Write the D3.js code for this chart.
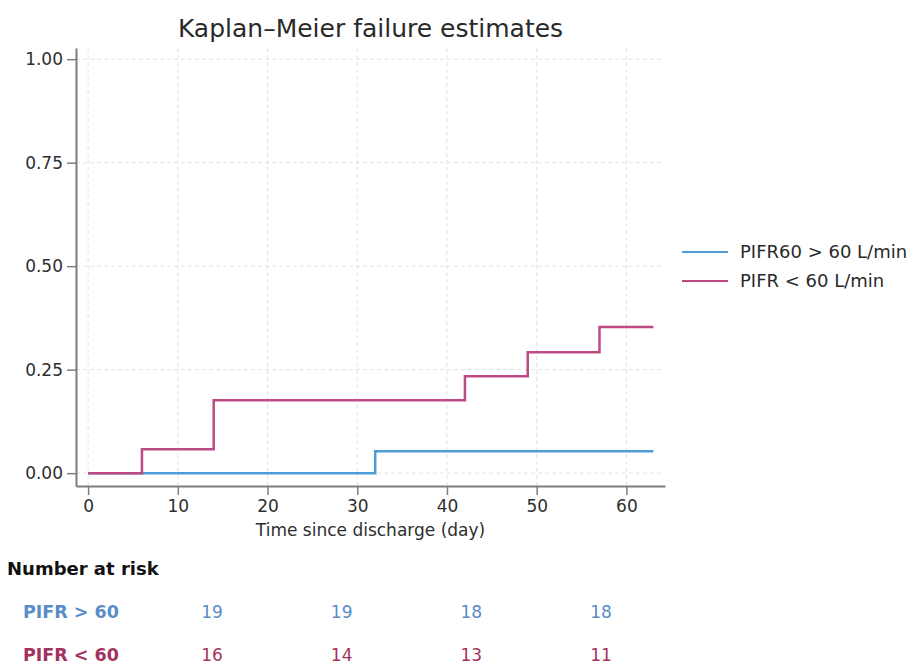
<!DOCTYPE html>
<html>
<head>
<meta charset="utf-8">
<script src="https://cdn.jsdelivr.net/npm/d3@7"></script>
<style>
  body { margin: 0; background: #fff; }
  svg text { font-family: "DejaVu Sans", sans-serif; }
</style>
</head>
<body>
<div id="chart"></div>
<script>
// data
const highTimes = [0, 32, 63];
const highFail = [0, 0.053, 0.053];
const lowTimes = [0, 6, 14, 42, 49, 57, 63];
const lowFail = [0, 0.058, 0.176, 0.234, 0.292, 0.353, 0.353];
const seriesNames = ["PIFR60 > 60 L/min", "PIFR < 60 L/min"];
const riskLabels = ["PIFR > 60", "PIFR < 60"];
const riskHigh = [19, 19, 18, 18];
const riskLow = [16, 14, 13, 11];
const xTicks = [0, 10, 20, 30, 40, 50, 60];
const yTicks = [0, 0.25, 0.5, 0.75, 1];

const width = 911;
const height = 666;
const blue = "#4f9bd6";
const red = "#bd4a82";
const blueText = "#5b8cc6";
const redText = "#a3325e";

const svg = d3.select("#chart").append("svg")
  .attr("width", width).attr("height", height);

const x = d3.scaleLinear().domain([-1.35, 64.3]).range([76, 665]);
const y = d3.scaleLinear().domain([-0.031, 1.027]).range([486, 48]);

// grid
svg.append("g").selectAll("line").data(yTicks).join("line")
  .attr("x1", x.range()[0]).attr("x2", x.range()[1])
  .attr("y1", d => y(d)).attr("y2", d => y(d))
  .attr("stroke", "#e2e2e2").attr("stroke-dasharray", "4,3");
svg.append("g").selectAll("line").data(xTicks).join("line")
  .attr("x1", d => x(d)).attr("x2", d => x(d))
  .attr("y1", y.range()[0]).attr("y2", y.range()[1])
  .attr("stroke", "#e2e2e2").attr("stroke-dasharray", "4,3");

// axes
const yAxis = svg.append("g")
  .attr("transform", `translate(${x.range()[0]},0)`)
  .call(d3.axisLeft(y).tickValues(yTicks).tickFormat(d3.format(".2f"))
    .tickSize(9).tickSizeOuter(0).tickPadding(4));
const xAxis = svg.append("g")
  .attr("transform", `translate(0,${y.range()[0]})`)
  .call(d3.axisBottom(x).tickValues(xTicks).tickSize(9).tickSizeOuter(0).tickPadding(5));

[yAxis, xAxis].forEach(a => {
  a.select(".domain").attr("stroke", "#7d7d7d").attr("stroke-width", 2);
  a.selectAll(".tick line").attr("stroke", "#7d7d7d").attr("stroke-width", 1.5);
  a.selectAll(".tick text").attr("fill", "#2e2e2e").style("font-size", "17px");
});

// curves
const line = d3.line().curve(d3.curveStepAfter)
  .x(d => x(d[0])).y(d => y(d[1]));
svg.append("path")
  .datum(d3.zip(highTimes, highFail))
  .attr("fill", "none").attr("stroke", blue).attr("stroke-width", 2.5)
  .attr("d", line);
svg.append("path")
  .datum(d3.zip(lowTimes, lowFail))
  .attr("fill", "none").attr("stroke", red).attr("stroke-width", 2.5)
  .attr("d", line);

// title
svg.append("text")
  .attr("x", (x.range()[0] + x.range()[1]) / 2).attr("y", 37)
  .attr("text-anchor", "middle").attr("fill", "#2a2a2a")
  .style("font-size", "25px")
  .text("Kaplan\u2013Meier failure estimates");

// axis title
svg.append("text")
  .attr("x", (x.range()[0] + x.range()[1]) / 2).attr("y", 536)
  .attr("text-anchor", "middle").attr("fill", "#2e2e2e")
  .style("font-size", "17px")
  .text("Time since discharge (day)");

// legend
const legend = svg.append("g").attr("transform", "translate(682,252)");
const legendItems = legend.selectAll("g").data(seriesNames).join("g")
  .attr("transform", (d, i) => `translate(0,${i * 29})`);
legendItems.append("line")
  .attr("x1", 0).attr("x2", 46)
  .attr("stroke", (d, i) => [blue, red][i]).attr("stroke-width", 2);
legendItems.append("text")
  .attr("x", 58).attr("dy", "0.35em").attr("fill", "#2a2a2a")
  .style("font-size", "18px")
  .text(d => d);

// number at risk table
svg.append("text")
  .attr("x", 7).attr("y", 575)
  .attr("fill", "#111").style("font-size", "18px").style("font-weight", "bold")
  .text("Number at risk");

const col = d3.scalePoint().domain(d3.range(riskHigh.length)).range([212, 601]);
const rows = [
  { label: riskLabels[0], values: riskHigh, color: blueText, y: 618 },
  { label: riskLabels[1], values: riskLow, color: redText, y: 661 }
];
const rowG = svg.selectAll("g.risk").data(rows).join("g").attr("class", "risk");
rowG.append("text")
  .attr("x", 23).attr("y", d => d.y)
  .attr("fill", d => d.color).style("font-size", "17.5px").style("font-weight", "bold")
  .text(d => d.label);
rowG.selectAll("text.n").data(d => d.values.map(v => ({ v, row: d }))).join("text")
  .attr("class", "n")
  .attr("x", (d, i) => col(i)).attr("y", d => d.row.y)
  .attr("text-anchor", "middle")
  .attr("fill", d => d.row.color).style("font-size", "17px")
  .text(d => d.v);
</script>
</body>
</html>
